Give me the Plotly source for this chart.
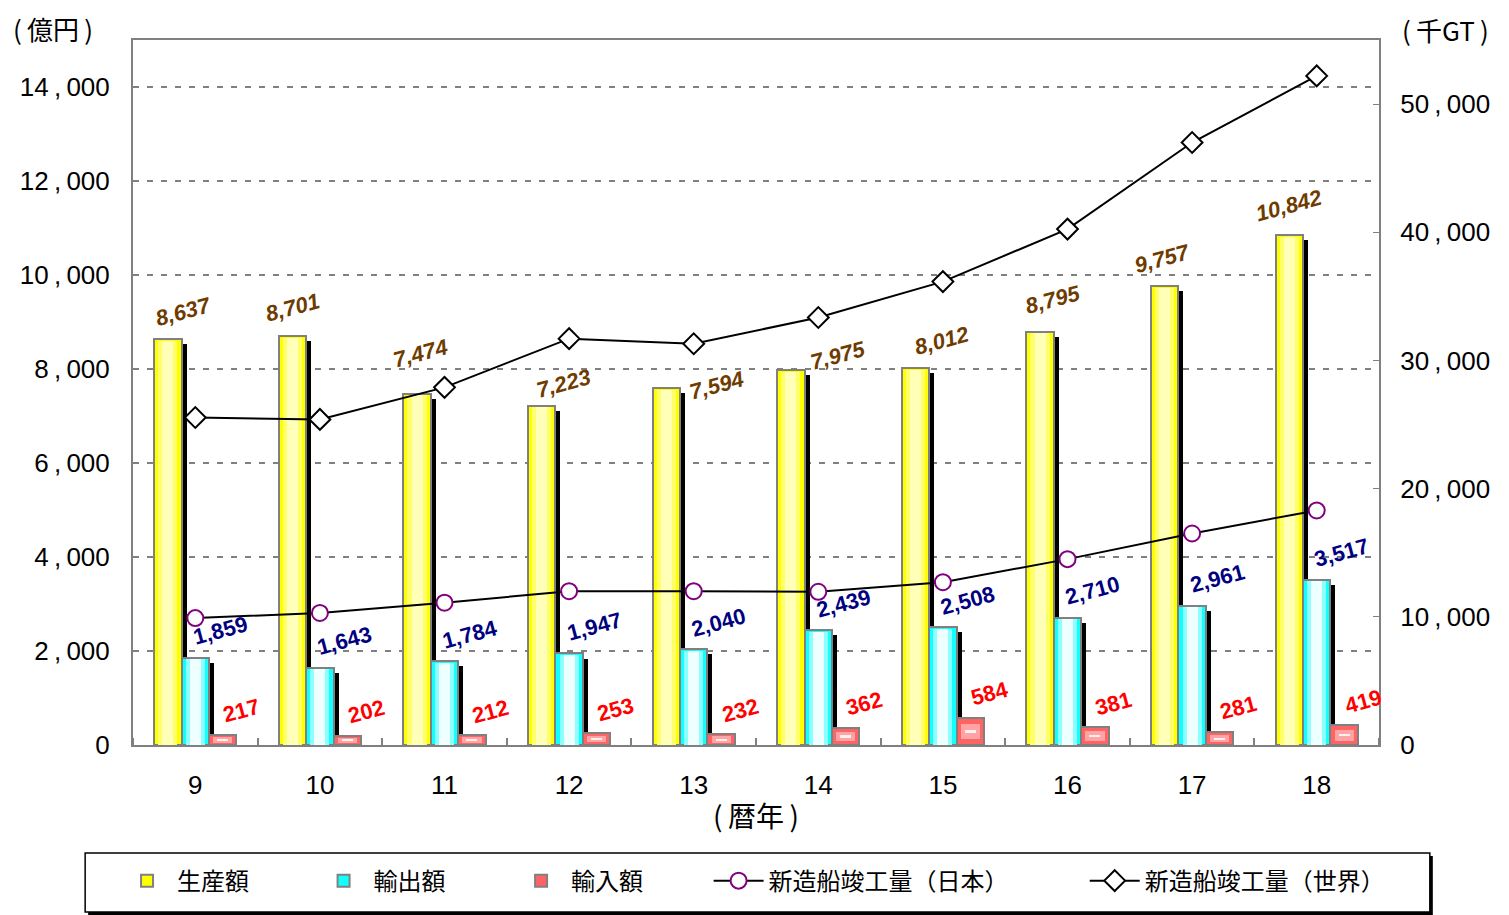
import plotly.graph_objects as go

years = [9, 10, 11, 12, 13, 14, 15, 16, 17, 18]
production = [8637, 8701, 7474, 7223, 7594, 7975, 8012, 8795, 9757, 10842]
exports = [1859, 1643, 1784, 1947, 2040, 2439, 2508, 2710, 2961, 3517]
imports = [217, 202, 212, 253, 232, 362, 584, 381, 281, 419]
japan_gt = [9900, 10300, 11100, 12000, 12000, 11950, 12700, 14500, 16500, 18300]
world_gt = [25550, 25400, 27900, 31700, 31300, 33350, 36150, 40250, 47000, 52200]
left_ticks = [0, 2000, 4000, 6000, 8000, 10000, 12000, 14000]
right_ticks = [0, 10000, 20000, 30000, 40000, 50000]

# hand placement of the production labels (pixels), as in the source sheet
prod_dx = [16, 0, 3, 22, 50, 47, 27, 13, -2, 0]
prod_dy = [28, 29, 40, 22, 3, 15, 28, 32, 28, 30]

JP = "Noto Sans CJK JP"
AR = "Liberation Sans"
GRAY = "#808080"
W = 0.22
PX = 21.3  # y units per pixel on the left axis

fig = go.Figure()


def shadow(values, off):
    fig.add_trace(go.Bar(
        x=years, y=[max(v - 5 * PX, 0) for v in values], width=W, offset=off + 0.04,
        marker=dict(color="black", line=dict(width=0)), showlegend=False, hoverinfo="skip",
    ))


def grad_bar(values, off, colors, name, legend, rank, boxed=False):
    fig.add_trace(go.Bar(
        x=years, y=values, width=W, offset=off, name=name, legend=legend, legendrank=rank,
        marker=dict(color=colors[0], line=dict(color=GRAY, width=2)),
    ))
    for i, c in enumerate(colors[1:], start=1):
        w = W * (1 - 0.3 * i)
        if boxed:
            frac = 0.22 * i
            y = [v * (1 - 2 * frac) for v in values]
            base = [v * frac for v in values]
        else:
            y = [v - 1.5 * PX for v in values]
            base = None
        fig.add_trace(go.Bar(
            x=years, y=y, base=base, width=w, offset=off + (W - w) / 2,
            marker=dict(color=c, line=dict(width=0)), showlegend=False, hoverinfo="skip",
        ))


shadow(production, -0.33)
grad_bar(production, -0.33, ["#FFFF00", "#FFFF6A", "#FFFFB8"], "生産額", "legend", 1)
shadow(exports, -0.11)
grad_bar(exports, -0.11, ["#11FFFF", "#8CFFFF", "#EEFFFF"], "輸出額", "legend2", 2)
grad_bar(imports, 0.11, ["#FF6464", "#FFA4A4", "#FFF0F0"], "輸入額", "legend3", 3, boxed=True)

fig.add_trace(go.Scatter(
    x=years, y=japan_gt, yaxis="y2", mode="lines+markers", name="新造船竣工量（日本）",
    legend="legend4", legendrank=4,
    line=dict(color="black", width=2),
    marker=dict(symbol="circle", size=16, color="white", line=dict(color="#800080", width=2)),
))
fig.add_trace(go.Scatter(
    x=years, y=world_gt, yaxis="y2", mode="lines+markers", name="新造船竣工量（世界）",
    legend="legend5", legendrank=5,
    line=dict(color="black", width=2),
    marker=dict(symbol="diamond", size=16, color="white", line=dict(color="black", width=2)),
))

ann = []
lab = dict(family=AR, size=22)
for i, yr in enumerate(years):
    ann.append(dict(x=yr - 0.22, y=production[i], xref="x", yref="y", text=f"<b><i>{production[i]:,}</i></b>",
                    showarrow=False, textangle=-15, xshift=prod_dx[i], yshift=prod_dy[i],
                    font=dict(lab, color="#6E3B00")))
    ann.append(dict(x=yr, y=exports[i], xref="x", yref="y", text=f"<b>{exports[i]:,}</b>",
                    showarrow=False, textangle=-15, xshift=25, yshift=27,
                    font=dict(lab, color="#000080")))
    ann.append(dict(x=yr + 0.22, y=imports[i], xref="x", yref="y", text=f"<b>{imports[i]:,}</b>",
                    showarrow=False, textangle=-15, xshift=19, yshift=24,
                    font=dict(lab, color="#FF0000")))

unit_font = dict(family=JP, size=26, color="black")
ann.append(dict(x=-0.0977, y=1.0170, xref="paper", yref="paper", text="(\u2009億円\u2009)", showarrow=False,
                xanchor="left", yanchor="middle", font=unit_font))
ann.append(dict(x=1.0168, y=1.0142, xref="paper", yref="paper", text="(\u2009千GT\u2009)", showarrow=False,
                xanchor="left", yanchor="middle", font=unit_font))

shapes = [
    dict(type="rect", xref="paper", yref="paper", x0=-0.036, x1=1.0432, y0=-0.2411, y1=-0.1574,
         fillcolor="black", line=dict(width=0), layer="above"),
    dict(type="rect", xref="paper", yref="paper", x0=-0.0384, x1=1.0408, y0=-0.2369, y1=-0.1532,
         fillcolor="white", line=dict(color="black", width=1.5), layer="above"),
]

leg_font = dict(family=JP, size=24, color="black")
text_px = [175, 372, 570, 768, 1145]
legends = {}
for k, px in enumerate(text_px):
    key = "legend" if k == 0 else f"legend{k + 1}"
    legends[key] = dict(x=(px - 61 - 130) / 1249, y=-0.193, xanchor="left", yanchor="middle",
                        bgcolor="rgba(0,0,0,0)", borderwidth=0, font=leg_font, itemwidth=50)


def spaced(v):
    return f"{v:,}".replace(",", "\u2009,\u2009")


fig.update_layout(
    width=1501, height=907,
    margin=dict(l=122, r=130, t=32, b=170),
    paper_bgcolor="white", plot_bgcolor="white",
    barmode="overlay", bargap=0,
    annotations=ann, shapes=shapes,
    font=dict(family=JP, color="black"),
    **legends,
)
fig.update_xaxes(
    range=[8.5, 18.5], tickvals=years, ticks="", showgrid=False, zeroline=False,
    showline=True, linecolor=GRAY, linewidth=2, mirror=True,
    tickfont=dict(family=AR, size=26, color="black"), ticklabelstandoff=16,
    title=dict(text="(\u2009暦年\u2009)", font=dict(family=JP, size=28, color="black"), standoff=8),
    minor=dict(ticks="inside", tick0=8.5, dtick=1, ticklen=7, tickcolor=GRAY, tickwidth=2),
)
fig.update_layout(
    yaxis=dict(
        range=[0, 15000], tickvals=left_ticks, ticktext=[spaced(v) for v in left_ticks],
        showgrid=True, gridcolor=GRAY, gridwidth=2, griddash="6px,8px", zeroline=False,
        showline=True, linecolor=GRAY, linewidth=2, ticks="inside", ticklen=6, tickcolor=GRAY,
        tickfont=dict(family=AR, size=26, color="black"), ticklabelstandoff=16,
    ),
    yaxis2=dict(
        range=[0, 55000], tickvals=right_ticks, ticktext=[spaced(v) for v in right_ticks],
        overlaying="y", side="right", showgrid=False, zeroline=False,
        showline=True, linecolor=GRAY, linewidth=2, ticks="inside", ticklen=6, tickcolor=GRAY,
        tickfont=dict(family=AR, size=26, color="black"), ticklabelstandoff=14,
    ),
)

fig.write_html("out.html")
